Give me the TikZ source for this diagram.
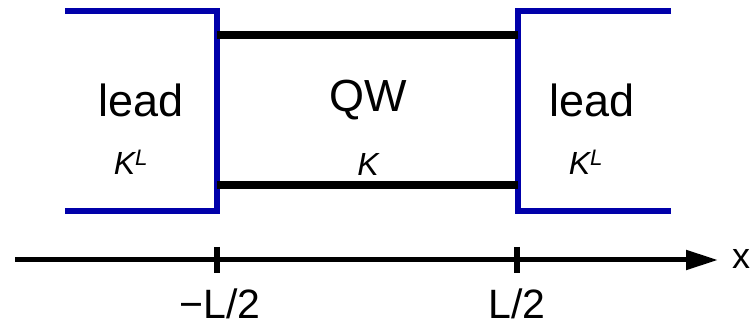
\documentclass[tikz,border=0pt]{standalone}
\usepackage{fontspec}
\setmainfont{Liberation Sans}
\usetikzlibrary{arrows.meta}
\definecolor{leadblue}{RGB}{0,0,170}
\tikzset{
  leadline/.style={draw=leadblue, line width=6.5pt, line join=miter},
  wireline/.style={draw=black, line width=7.5pt},
  axisline/.style={draw=black, line width=5pt},
  tickline/.style={draw=black, line width=6pt},
  bigtext/.style={font=\fontsize{45}{50}\selectfont, inner sep=0pt},
  ktext/.style={font=\fontsize{32}{35}\selectfont\itshape, inner sep=0pt},
  axtext/.style={font=\fontsize{41}{45}\selectfont, inner sep=0pt, anchor=base}
}
\begin{document}
\begin{tikzpicture}[x=1pt,y=-1pt]
\useasboundingbox (0,0) rectangle (752,328);
% leads
\coordinate (lt) at (65,11);
\coordinate (lb) at (65,211);
\coordinate (lit) at (217,11);
\coordinate (lib) at (217,211);
\coordinate (rt) at (671,11);
\coordinate (rb) at (671,211);
\coordinate (rit) at (518,11);
\coordinate (rib) at (518,211);
\draw[leadline] (lt) -- (lit) -- (lib) -- (lb);
\draw[leadline] (rt) -- (rit) -- (rib) -- (rb);
% QW wires
\coordinate (wtl) at (217,35);
\coordinate (wtr) at (518,35);
\coordinate (wbl) at (217,185);
\coordinate (wbr) at (518,185);
\draw[wireline] (wtl) -- (wtr);
\draw[wireline] (wbl) -- (wbr);
% labels
\node[bigtext] (leadL) at (141,100) {lead};
\node[bigtext] (qw) at (368,100) {QW};
\node[bigtext] (leadR) at (592,100) {lead};
\node[ktext] (kL) at (131,162) {K\textsuperscript{L}};
\node[ktext] (kQ) at (368,164) {K};
\node[ktext] (kR) at (586,162) {K\textsuperscript{L}};
% axis
\coordinate (a0) at (15,260);
\coordinate (a1) at (718,260);
\draw[axisline, -{Triangle[length=32pt,width=19pt]}] (a0) -- (a1);
\node[font=\fontsize{36}{40}\selectfont, inner sep=0pt] (xl) at (741,259) {x};
\coordinate (t1a) at (217,247);
\coordinate (t1b) at (217,273);
\coordinate (t2a) at (517,247);
\coordinate (t2b) at (517,273);
\draw[tickline] (t1a) -- (t1b);
\draw[tickline] (t2a) -- (t2b);
\node[axtext] (m1) at (220,319) {−L/2};
\node[axtext] (m2) at (517,319) {L/2};
\end{tikzpicture}
\end{document}
